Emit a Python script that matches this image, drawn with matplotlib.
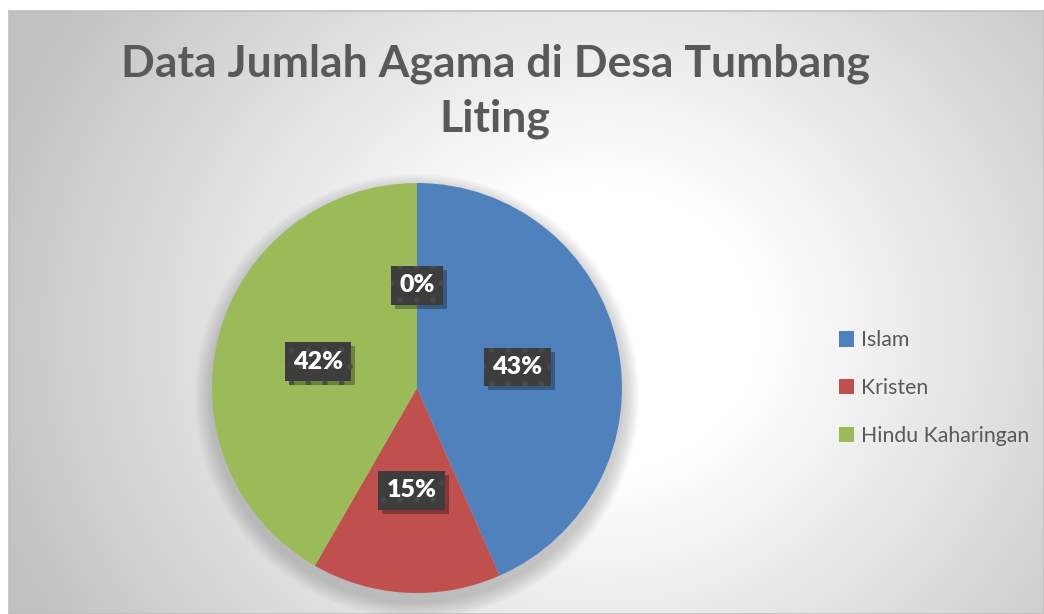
import matplotlib.pyplot as plt
import matplotlib.patheffects as pe
from matplotlib.patches import Circle
import numpy as np

plt.rcParams['font.family'] = ['Lato', 'DejaVu Sans']
plt.rcParams['hatch.linewidth'] = 1.5

# data
categories = ['Islam', 'Kristen', 'Hindu Kaharingan', '']
values = [43.4, 14.9, 41.7, 0.0]
colors = ['#4f81bd', '#c0504d', '#9bbb59', '#8064a2']
title = 'Data Jumlah Agama di Desa Tumbang\nLiting'

W, H = 1044, 614
fig = plt.figure(figsize=(W / 100, H / 100), dpi=100)
fig.patch.set_facecolor('white')

# chart area with radial gradient
bg = fig.add_axes([9 / W, 0, 1 - 9 / W, (H - 11) / H])
yy, xx = np.mgrid[11:H, 9:W]
d = np.hypot(xx - 600, (yy - 330) * 1.1)
shade = np.clip((d - 160) / 480, 0, 1)
g = 1.0 - 0.24 * shade
bg.imshow(np.dstack([g, g, g]), extent=[0, 1, 0, 1], aspect='auto')
bg.set_xticks([])
bg.set_yticks([])
for s in bg.spines.values():
    s.set_color('#bfbfbf')
    s.set_linewidth(1.2)

# pie
cx, cy, r = 417, H - 388, 205
ax = fig.add_axes([(cx - r) / W, (cy - r) / H, 2 * r / W, 2 * r / H])
ax.set_facecolor('none')

# soft shadow under the pie
for k in range(14):
    ax.add_patch(Circle((0, -0.04), 1.0 + 0.006 * (14 - k), color='#808080',
                        alpha=0.03, lw=0, zorder=0, clip_on=False))

wedges, texts, autotexts = ax.pie(values, colors=colors, startangle=90,
                                  counterclock=False, autopct='%.0f%%',
                                  pctdistance=0.5, radius=1,
                                  wedgeprops=dict(linewidth=0))
for w in wedges:
    w.set_zorder(2)
for t in autotexts:
    t.set_color('white')
    t.set_fontsize(18)
    t.set_fontweight('heavy')
    t.set_zorder(5)
    t.set_bbox(dict(boxstyle='square,pad=0.33', facecolor='#3d3d3d',
                    edgecolor='#4a4a4a', linewidth=0, hatch='.'))
    t.get_bbox_patch().set_path_effects([
        pe.SimplePatchShadow(offset=(3, -3), shadow_rgbFace='black', alpha=0.3),
        pe.Normal()])
ax.set_xlim(-1, 1)
ax.set_ylim(-1, 1)
ax.axis('off')

fig.text(495 / W, 1 - 91 / H, title, ha='center', va='center', fontsize=32,
         fontweight='bold', color='#595959', linespacing=1.45)

fig.legend(wedges[:3], categories[:3], loc='center left',
           bbox_to_anchor=(820 / W, 1 - 388 / H), frameon=False,
           fontsize=15.3, labelcolor='#595959', handlelength=0.72,
           handleheight=0.72, handletextpad=0.3, labelspacing=1.3)

fig.savefig('out.png', dpi=100)
